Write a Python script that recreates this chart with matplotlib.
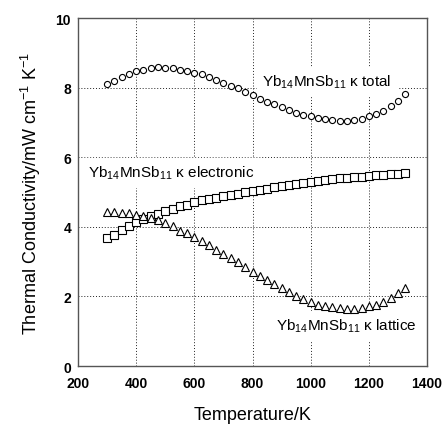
import matplotlib
matplotlib.use("Agg")
import matplotlib.pyplot as plt

plt.rcParams['font.family'] = ['Liberation Sans', 'DejaVu Sans']
plt.rcParams['mathtext.fontset'] = 'custom'
plt.rcParams['mathtext.rm'] = 'Liberation Sans'

temperature = [300, 325, 350, 375, 400, 425, 450, 475, 500, 525, 550, 575, 600, 625,
               650, 675, 700, 725, 750, 775, 800, 825, 850, 875, 900, 925, 950, 975,
               1000, 1025, 1050, 1075, 1100, 1125, 1150, 1175, 1200, 1225, 1250, 1275,
               1300, 1325]
kappa_total = [8.09, 8.18, 8.31, 8.40, 8.48, 8.52, 8.56, 8.58, 8.57, 8.55, 8.52, 8.48,
               8.43, 8.38, 8.30, 8.22, 8.14, 8.05, 7.98, 7.88, 7.78, 7.68, 7.60, 7.52,
               7.44, 7.36, 7.27, 7.22, 7.17, 7.12, 7.10, 7.07, 7.05, 7.05, 7.06, 7.10,
               7.17, 7.24, 7.33, 7.47, 7.62, 7.82]
kappa_electronic = [3.67, 3.76, 3.90, 4.01, 4.13, 4.22, 4.30, 4.38, 4.45, 4.51, 4.59,
                    4.64, 4.70, 4.76, 4.80, 4.84, 4.88, 4.92, 4.95, 4.99, 5.03, 5.06,
                    5.10, 5.13, 5.17, 5.20, 5.23, 5.27, 5.30, 5.33, 5.35, 5.37, 5.39,
                    5.41, 5.43, 5.44, 5.46, 5.48, 5.49, 5.51, 5.52, 5.54]
kappa_lattice = [4.42, 4.42, 4.41, 4.39, 4.35, 4.30, 4.26, 4.20, 4.10, 4.01, 3.89, 3.81,
                 3.72, 3.60, 3.48, 3.34, 3.22, 3.09, 2.98, 2.84, 2.69, 2.58, 2.47, 2.36,
                 2.24, 2.12, 2.00, 1.93, 1.83, 1.76, 1.73, 1.69, 1.66, 1.64, 1.64, 1.66,
                 1.73, 1.74, 1.83, 1.96, 2.10, 2.25]

x_ticks = [200, 400, 600, 800, 1000, 1200, 1400]
y_ticks = [0, 2, 4, 6, 8, 10]

fig = plt.figure(figsize=(4.47, 4.27), dpi=100)
ax = fig.add_axes([0.1745, 0.1405, 0.7808, 0.815])

ax.plot(temperature, kappa_total, linestyle='none', marker='o', markersize=4.4,
        markerfacecolor='white', markeredgecolor='black', markeredgewidth=0.8, zorder=5)
ax.plot(temperature, kappa_electronic, linestyle='none', marker='s', markersize=5.4,
        markerfacecolor='white', markeredgecolor='black', markeredgewidth=0.8, zorder=5)
ax.plot(temperature, kappa_lattice, linestyle='none', marker='^', markersize=5.4,
        markerfacecolor='white', markeredgecolor='black', markeredgewidth=0.8, zorder=5)

ax.set_xlim(200, 1400)
ax.set_ylim(0, 10)
ax.set_xticks(x_ticks)
ax.set_yticks(y_ticks)
ax.tick_params(direction='in', length=0, labelsize=10)
ax.tick_params(axis='x', pad=7)
ax.tick_params(axis='y', pad=5)
for lab in ax.get_xticklabels() + ax.get_yticklabels():
    lab.set_fontweight('bold')
ax.grid(True, linestyle=(0, (1, 2)), color='#222222', linewidth=0.7)
for s in ax.spines.values():
    s.set_color('#555555')
    s.set_linewidth(1.0)

ax.set_xlabel('Temperature/K', fontsize=13, labelpad=12)
ax.set_ylabel('Thermal Conductivity/mW cm$^{-1}$ K$^{-1}$', fontsize=13, labelpad=9)

ax.text(833, 8.19, 'Yb$_{14}$MnSb$_{11}$ \u03ba total', fontsize=11, va='center', ha='left',
        backgroundcolor='white', zorder=4)
ax.text(234, 5.57, 'Yb$_{14}$MnSb$_{11}$ \u03ba electronic', fontsize=11, va='center',
        ha='left', backgroundcolor='white', zorder=4)
ax.text(881, 1.16, 'Yb$_{14}$MnSb$_{11}$ \u03ba lattice', fontsize=11, va='center',
        ha='left', backgroundcolor='white', zorder=4)

fig.savefig('out.png', dpi=100)
